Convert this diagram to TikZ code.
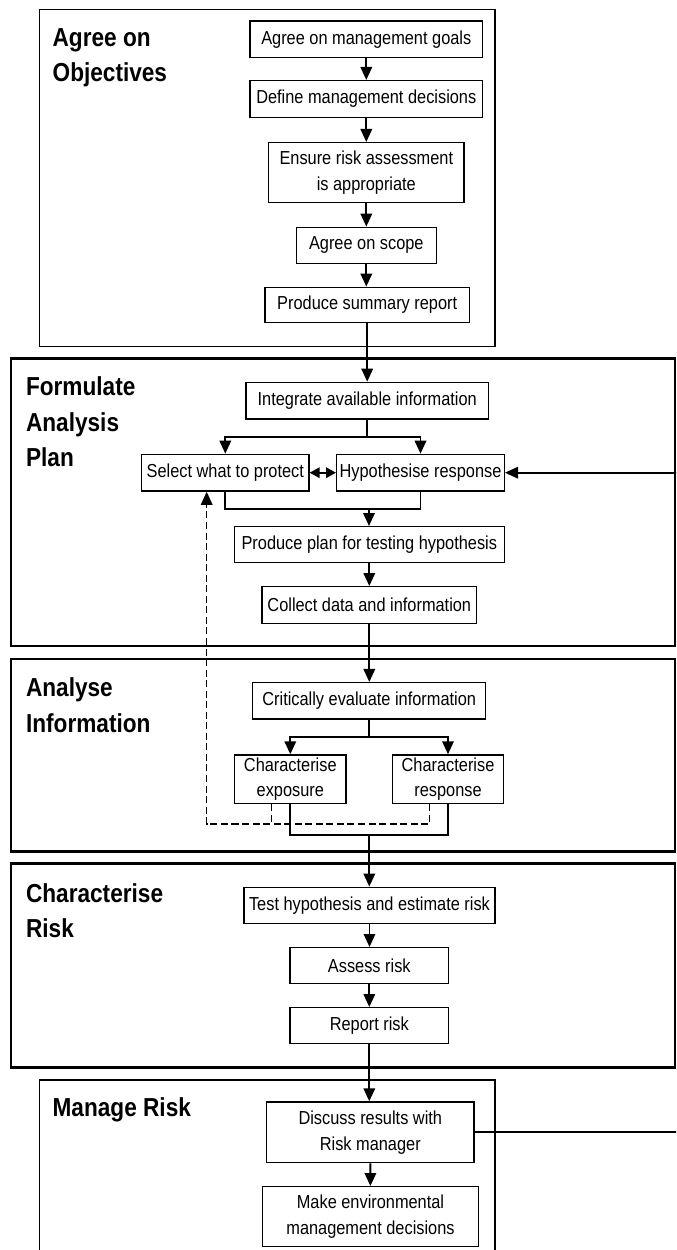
\documentclass[tikz,border=0pt]{standalone}
\usepackage{fontspec}
\setmainfont{Liberation Sans}[FakeStretch=0.87]
\usetikzlibrary{arrows.meta,calc}

\tikzset{
  stepbox/.style={draw, line width=0.8pt, inner sep=0pt, align=center,
    font=\fontsize{10.7}{14.6}\selectfont},
  wh/.style 2 args={minimum width=#1*0.02cm, minimum height=#2*0.02cm},
  stagethin/.style={draw, line width=0.8pt},
  stagethick/.style={draw, line width=1.5pt},
  stagetitle/.style={anchor=north west, inner sep=0pt, align=left,
    font=\bfseries\fontsize{14.8}{20.1}\selectfont},
  conn/.style={line width=1.1pt},
  tip/.tip={Triangle[length=2.6mm, width=2.3mm]},
  smalltip/.tip={Triangle[length=2mm, width=2.1mm]},
  arr/.style={conn, -tip},
  dblarr/.style={conn, smalltip-smalltip},
  back/.style={line width=0.8pt, dash pattern=on 4pt off 2pt},
  backarr/.style={back, -tip},
}

\begin{document}
\begin{tikzpicture}[x=0.02cm, y=-0.02cm]
\useasboundingbox (0,0) rectangle (676,1250);
\clip (0,0) rectangle (676,1250);

% stage frames
\draw[stagethin]  (39.3,9.3)  rectangle (495,346.7);
\draw[stagethick] (11,358.3)  rectangle (675,646);
\draw[stagethick] (11,659)    rectangle (675,851.7);
\draw[stagethick] (11,863.3)  rectangle (675,1067.7);
\draw[stagethin]  (39.3,1080) rectangle (495,1262);

% stage titles
\node[stagetitle] (t1) at (52.3,28.3)  {Agree on\\Objectives};
\node[stagetitle] (t2) at (25.7,376.7) {Formulate\\Analysis\\Plan};
\node[stagetitle] (t3) at (25.7,677.5) {Analyse\\Information};
\node[stagetitle] (t4) at (25.7,883.3) {Characterise\\Risk};
\node[stagetitle] (t5) at (52.3,1097.5) {Manage Risk};

% steps
\node[stepbox, wh={232.7}{36.3}] (goals)    at (366.3,39.2)  {Agree on management goals};
\node[stepbox, wh={232.7}{36.6}] (define)   at (366.3,99)    {Define management decisions};
\node[stepbox, wh={195.3}{60}]   (ensure)   at (366.3,172.7) {Ensure risk assessment\\is appropriate};
\node[stepbox, wh={140}{36}]     (scope)    at (366.3,245.3) {Agree on scope};
\node[stepbox, wh={204.3}{35.4}] (summary)  at (367.2,305)   {Produce summary report};

\node[stepbox, wh={242.3}{36.7}] (integrate) at (367.2,400.7) {Integrate available information};
\node[stepbox, wh={167.3}{36.7}] (select)    at (225.3,472.7) {Select what to protect};
\node[stepbox, wh={167.6}{36.7}] (hyp)       at (420.5,472.7) {Hypothesise response};
\node[stepbox, wh={270}{36}]     (plan)      at (369.3,544.7) {Produce plan for testing hypothesis};
\node[stepbox, wh={214.7}{36.6}] (collect)   at (369.3,605)   {Collect data and information};

\node[stepbox, wh={233}{36.3}]   (critical)  at (369.2,700.8) {Critically evaluate information};
\node[stepbox, wh={111.3}{48.7}] (exposure)  at (290.3,779.3) {Characterise\\exposure};
\node[stepbox, wh={111.4}{48.7}] (response)  at (448,779.3)   {Characterise\\response};

\node[stepbox, wh={251}{36}]     (test)      at (369.5,905.3) {Test hypothesis and estimate risk};
\node[stepbox, wh={158.7}{35.6}] (assess)    at (369.3,965.5) {Assess risk};
\node[stepbox, wh={158.7}{36}]   (report)    at (369.3,1025.7) {Report risk};

\node[stepbox, wh={207.3}{60.7}] (discuss)   at (370.3,1132.3) {Discuss results with\\Risk manager};
\node[stepbox, wh={216.4}{60}]   (make)      at (370.5,1216.7) {Make environmental\\management decisions};

% junction points
\coordinate (s1) at (367.2,436.7);
\coordinate (m1) at (369,509);
\coordinate (s2) at (369.2,736.7);
\coordinate (m2) at (369.3,835);
\coordinate (dc) at (206.7,824);
\coordinate (rt) at (679,0);

% main flow
\draw[arr] (goals) -- (define);
\draw[arr] (define) -- (define.south |- ensure.north);
\draw[arr] (ensure) -- (scope);
\draw[arr] (scope) -- (scope.south |- summary.north);
\draw[arr] (summary.south) -- (summary.south |- integrate.north);

\draw[conn] (integrate.south) -- (s1);
\draw[arr] (s1) -| (select.north);
\draw[arr] (s1) -| (hyp.north);
\draw[dblarr] (select.east) -- (hyp.west);
\draw[conn] (select.south) |- (m1) -| (hyp.south);
\draw[arr] (m1) -- (m1 |- plan.north);
\draw[arr] (plan) -- (collect);
\draw[arr] (collect.south) -- (collect.south |- critical.north);

\draw[conn] (critical.south) -- (s2);
\draw[arr] (s2) -| (exposure.north);
\draw[arr] (s2) -| (response.north);
\draw[conn] (exposure.south) |- (m2) -| (response.south);
\draw[arr] (m2) -- (m2 |- test.north);

\draw[arr] (test.south) -- (test.south |- assess.north);
\draw[arr] (assess) -- (report);
\draw[arr] (report.south) -- (report.south |- discuss.north);
\draw[arr] (discuss) -- (make);

% feedback from risk manager to the response hypothesis
\draw[arr] (discuss.east) -- (discuss.east -| rt) |- (hyp.east);

% dashed feedback from characterisation to the protection choice
\coordinate (e1) at ($(exposure.south)+(-18.6,0)$);
\coordinate (r1) at ($(response.south)+(-18.3,0)$);
\draw[back] (e1) -- (e1 |- dc);
\draw[backarr] (r1) |- (dc) -- (dc |- select.south);
\end{tikzpicture}
\end{document}
